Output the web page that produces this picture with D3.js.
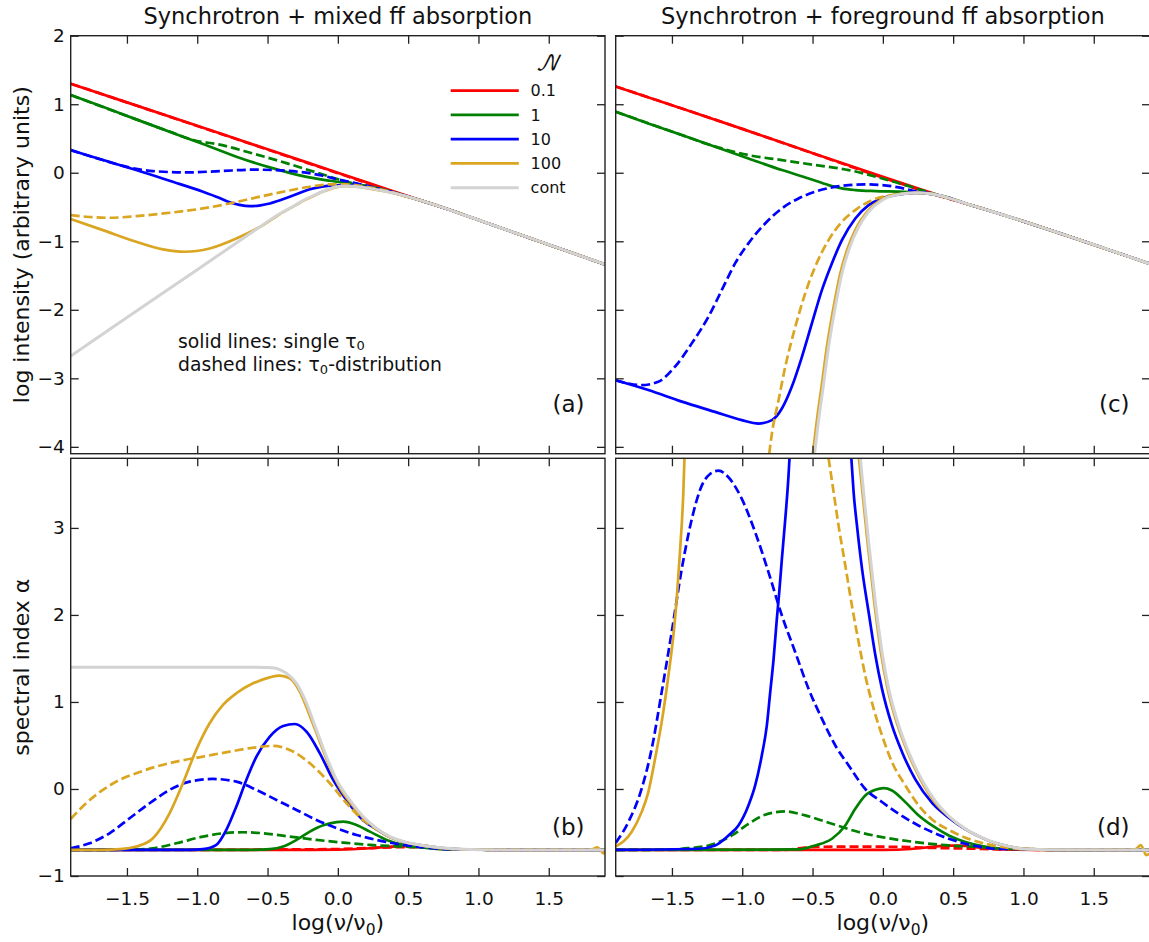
<!DOCTYPE html>
<html>
<head>
<meta charset="utf-8">
<script src="https://cdn.jsdelivr.net/npm/d3@7"></script>
<style>
  body { margin: 0; background: #fff; }
  svg { display: block; }
  text { font-family: "DejaVu Sans", sans-serif; fill: #111; }
</style>
</head>
<body>
<svg id="chart" width="1149" height="942"></svg>
<script>
// ---------- axis ticks and labels ----------
const xTicks = [-1.5, -1.0, -0.5, 0.0, 0.5, 1.0, 1.5];
const xTickLabels = ["\u22121.5", "\u22121.0", "\u22120.5", "0.0", "0.5", "1.0", "1.5"];
const yTicksIntensity = [-4, -3, -2, -1, 0, 1, 2];
const yTickLabelsIntensity = ["\u22124", "\u22123", "\u22122", "\u22121", "0", "1", "2"];
const yTicksAlpha = [-1, 0, 1, 2, 3];
const yTickLabelsAlpha = ["\u22121", "0", "1", "2", "3"];
const legendLabels = ["0.1", "1", "10", "100", "cont"];
const panelTitles = ["Synchrotron + mixed ff absorption", "Synchrotron + foreground ff absorption"];

// ---------- (a) log intensity, mixed absorption: [log(nu/nu0), log I] ----------
const tailA = [[0.6, -0.41], [0.8, -0.545], [1.0, -0.69], [1.5, -1.05], [1.9, -1.338]];
const aRed = [[-1.9, 1.30], [-1.5, 1.027], [-1.0, 0.685], [-0.5, 0.342], [0.0, 0.0], [0.2, -0.137], [0.4, -0.274]].concat(tailA);
const aRedDash = [[-1.9, 1.30], [-1.0, 0.683], [-0.5, 0.338], [0.0, -0.006], [0.2, -0.145], [0.4, -0.28]].concat(tailA);
const aGreen = [[-1.9, 1.134], [-1.671, 0.963], [-1.434, 0.779], [-1.197, 0.599], [-0.959, 0.418], [-0.722, 0.234], [-0.484, 0.078], [-0.247, -0.049], [-0.057, -0.117], [0.109, -0.165], [0.228, -0.203], [0.35, -0.26], [0.465, -0.33]].concat(tailA);
const aGreenDash = [[-1.9, 1.134], [-1.434, 0.779], [-1.197, 0.6], [-1.03, 0.478], [-0.84, 0.41], [-0.603, 0.28], [-0.366, 0.14], [-0.128, -0.012], [0.062, -0.13], [0.228, -0.21], [0.35, -0.262], [0.465, -0.33]].concat(tailA);
const aBlue = [[-1.9, 0.331], [-1.671, 0.185], [-1.434, 0.039], [-1.197, -0.117], [-0.959, -0.277], [-0.85, -0.36], [-0.769, -0.43], [-0.7, -0.468], [-0.627, -0.487], [-0.55, -0.475], [-0.484, -0.448], [-0.342, -0.35], [-0.199, -0.24], [-0.1, -0.198], [-0.02, -0.185], [0.062, -0.185], [0.2, -0.215], [0.35, -0.265], [0.465, -0.33]].concat(tailA);
const aBlueDash = [[-1.9, 0.331], [-1.671, 0.185], [-1.529, 0.1], [-1.315, 0.024], [-1.078, 0.005], [-0.84, 0.024], [-0.603, 0.045], [-0.366, 0.029], [-0.128, -0.034], [-0.009, -0.092], [0.133, -0.156], [0.228, -0.2], [0.35, -0.262], [0.465, -0.33]].concat(tailA);
const aGold = [[-1.9, -0.676], [-1.671, -0.837], [-1.434, -1.007], [-1.244, -1.119], [-1.09, -1.153], [-0.912, -1.105], [-0.722, -0.959], [-0.532, -0.764], [-0.389, -0.575], [-0.3, -0.473], [-0.247, -0.41], [-0.17, -0.335], [-0.104, -0.275], [-0.009, -0.21], [0.05, -0.197], [0.109, -0.2], [0.228, -0.232], [0.35, -0.278], [0.465, -0.333]].concat(tailA);
const aGoldDash = [[-1.9, -0.618], [-1.79, -0.642], [-1.624, -0.657], [-1.434, -0.633], [-1.197, -0.584], [-0.959, -0.521], [-0.769, -0.448], [-0.579, -0.36], [-0.389, -0.277], [-0.199, -0.204], [-0.057, -0.17], [0.062, -0.17], [0.2, -0.205], [0.35, -0.264], [0.465, -0.33]].concat(tailA);
const aCont = [[-1.9, -2.674], [-1.5, -2.114], [-1.0, -1.414], [-0.6, -0.854], [-0.45, -0.646], [-0.389, -0.57], [-0.3, -0.47], [-0.247, -0.405], [-0.17, -0.33], [-0.104, -0.27], [-0.009, -0.205], [0.05, -0.192], [0.109, -0.196], [0.228, -0.228], [0.35, -0.275], [0.465, -0.33]].concat(tailA);

// ---------- (b) spectral index, mixed absorption ----------
const tailB = [[1.0, -0.698], [1.2, -0.70], [1.9, -0.70]];
const bRed = [[-1.9, -0.70], [-0.5, -0.70], [0.0, -0.697], [0.228, -0.681], [0.347, -0.665], [0.465, -0.657], [0.584, -0.662], [0.703, -0.685], [0.85, -0.696]].concat(tailB);
const bRedDash = [[-1.9, -0.70], [-0.8, -0.70], [-0.4, -0.695], [0.0, -0.69], [0.2, -0.68], [0.4, -0.67], [0.6, -0.668], [0.75, -0.685], [0.9, -0.696]].concat(tailB);
const bGreen = [[-1.9, -0.70], [-0.6, -0.699], [-0.484, -0.692], [-0.389, -0.662], [-0.294, -0.585], [-0.199, -0.49], [-0.104, -0.418], [-0.009, -0.38], [0.038, -0.375], [0.133, -0.413], [0.228, -0.49], [0.347, -0.585], [0.465, -0.643], [0.584, -0.67], [0.703, -0.689], [0.85, -0.697]].concat(tailB);
const bGreenDash = [[-1.9, -0.70], [-1.434, -0.697], [-1.315, -0.681], [-1.149, -0.624], [-0.959, -0.547], [-0.817, -0.509], [-0.674, -0.497], [-0.532, -0.509], [-0.342, -0.547], [-0.152, -0.585], [0.038, -0.616], [0.228, -0.643], [0.465, -0.662], [0.703, -0.681], [0.9, -0.695]].concat(tailB);
const bBlue = [[-1.9, -0.70], [-1.05, -0.699], [-0.959, -0.692], [-0.864, -0.643], [-0.793, -0.47], [-0.722, -0.202], [-0.651, 0.104], [-0.579, 0.372], [-0.484, 0.602], [-0.389, 0.724], [-0.306, 0.747], [-0.223, 0.659], [-0.128, 0.41], [-0.033, 0.104], [0.062, -0.13], [0.18, -0.36], [0.275, -0.463], [0.37, -0.553], [0.465, -0.608], [0.584, -0.646], [0.703, -0.672], [0.8, -0.688]].concat(tailB);
const bBlueDash = [[-1.9, -0.681], [-1.766, -0.624], [-1.624, -0.509], [-1.481, -0.336], [-1.339, -0.164], [-1.197, -0.011], [-1.054, 0.085], [-0.888, 0.115], [-0.722, 0.085], [-0.579, -0.011], [-0.437, -0.126], [-0.294, -0.241], [-0.152, -0.356], [-0.009, -0.451], [0.133, -0.528], [0.275, -0.585], [0.418, -0.631], [0.56, -0.662], [0.703, -0.685], [0.85, -0.695]].concat(tailB);
const bGold = [[-1.9, -0.70], [-1.671, -0.70], [-1.55, -0.692], [-1.434, -0.662], [-1.315, -0.566], [-1.197, -0.279], [-1.102, 0.066], [-1.007, 0.449], [-0.912, 0.755], [-0.817, 0.966], [-0.722, 1.10], [-0.603, 1.214], [-0.484, 1.283], [-0.413, 1.303], [-0.342, 1.272], [-0.271, 1.12], [-0.199, 0.84], [-0.128, 0.54], [-0.057, 0.25], [0.02, 0.0], [0.085, -0.15], [0.18, -0.33], [0.275, -0.458], [0.37, -0.551], [0.465, -0.606], [0.584, -0.645], [0.703, -0.671], [0.8, -0.687], [1.0, -0.698], [1.2, -0.70], [1.78, -0.70], [1.815, -0.69], [1.845, -0.67], [1.87, -0.705], [1.887, -0.74], [1.9, -0.735]];
const bGoldDash = [[-1.9, -0.345], [-1.79, -0.164], [-1.671, -0.011], [-1.553, 0.104], [-1.434, 0.181], [-1.292, 0.257], [-1.149, 0.315], [-0.959, 0.372], [-0.769, 0.429], [-0.579, 0.479], [-0.461, 0.495], [-0.342, 0.449], [-0.199, 0.295], [-0.057, 0.066], [0.062, -0.164], [0.18, -0.356], [0.275, -0.462], [0.37, -0.552], [0.465, -0.607], [0.584, -0.645], [0.703, -0.672], [0.8, -0.688]].concat(tailB);
const bCont = [[-1.9, 1.398], [-0.6, 1.398], [-0.5, 1.396], [-0.45, 1.39], [-0.41, 1.37], [-0.366, 1.33], [-0.294, 1.214], [-0.223, 0.985], [-0.152, 0.678], [-0.081, 0.372], [-0.009, 0.104], [0.085, -0.126], [0.18, -0.317], [0.275, -0.451], [0.37, -0.547], [0.465, -0.604], [0.584, -0.643], [0.703, -0.67], [0.8, -0.685]].concat(tailB);

// ---------- (c) log intensity, foreground absorption ----------
const tailC = [[0.8, -0.58], [1.0, -0.71], [1.5, -1.05], [1.9, -1.33]];
const cRed = [[-1.9, 1.26], [-1.5, 0.985], [-1.0, 0.64], [-0.481, 0.275], [0.0, -0.06], [0.231, -0.215], [0.4, -0.33], [0.6, -0.455]].concat(tailC);
const cRedDash = [[-1.9, 1.26], [-1.0, 0.64], [-0.481, 0.272], [-0.2, 0.07], [0.0, -0.072], [0.231, -0.228], [0.4, -0.337], [0.6, -0.456]].concat(tailC);
const cGreen = [[-1.9, 0.89], [-1.668, 0.72], [-1.43, 0.55], [-1.193, 0.38], [-0.956, 0.209], [-0.718, 0.039], [-0.528, -0.083], [-0.386, -0.18], [-0.291, -0.229], [-0.196, -0.253], [-0.053, -0.268], [0.113, -0.276], [0.231, -0.285], [0.35, -0.312], [0.469, -0.37], [0.6, -0.455]].concat(tailC);
const cGreenDash = [[-1.9, 0.89], [-1.43, 0.55], [-1.25, 0.42], [-1.145, 0.355], [-0.956, 0.258], [-0.718, 0.185], [-0.481, 0.112], [-0.243, 0.039], [-0.006, -0.083], [0.184, -0.195], [0.35, -0.3], [0.469, -0.365], [0.6, -0.455]].concat(tailC);
const cBlue = [[-1.9, -3.027], [-1.668, -3.17], [-1.43, -3.34], [-1.193, -3.49], [-1.003, -3.61], [-0.884, -3.66], [-0.789, -3.61], [-0.718, -3.44], [-0.647, -3.12], [-0.576, -2.69], [-0.505, -2.2], [-0.433, -1.71], [-0.362, -1.32], [-0.291, -0.983], [-0.196, -0.667], [-0.101, -0.472], [-0.006, -0.375], [0.113, -0.316], [0.231, -0.293], [0.35, -0.311], [0.469, -0.37], [0.6, -0.455]].concat(tailC);
const cBlueDash = [[-1.9, -3.027], [-1.81, -3.075], [-1.716, -3.1], [-1.597, -3.05], [-1.478, -2.83], [-1.359, -2.49], [-1.24, -2.1], [-1.145, -1.71], [-1.05, -1.32], [-0.956, -1.03], [-0.837, -0.74], [-0.718, -0.52], [-0.6, -0.375], [-0.481, -0.277], [-0.362, -0.214], [-0.243, -0.18], [-0.125, -0.17], [-0.006, -0.18], [0.113, -0.214], [0.231, -0.27], [0.35, -0.305], [0.469, -0.367], [0.6, -0.455]].concat(tailC);
const cGold = [[-0.498, -4.1], [-0.469, -3.61], [-0.433, -3.075], [-0.398, -2.54], [-0.35, -1.956], [-0.303, -1.47], [-0.255, -1.13], [-0.184, -0.788], [-0.113, -0.569], [-0.018, -0.40], [0.1, -0.316], [0.231, -0.292], [0.35, -0.311], [0.469, -0.37], [0.6, -0.455]].concat(tailC);
const cGoldDash = [[-0.808, -4.1], [-0.789, -3.805], [-0.742, -3.32], [-0.694, -2.83], [-0.623, -2.25], [-0.552, -1.76], [-0.481, -1.37], [-0.386, -0.983], [-0.291, -0.715], [-0.196, -0.545], [-0.077, -0.40], [0.065, -0.326], [0.184, -0.30], [0.3, -0.298], [0.469, -0.368], [0.6, -0.455]].concat(tailC);
const cCont = [[-0.486, -4.1], [-0.457, -3.61], [-0.421, -3.075], [-0.386, -2.54], [-0.338, -1.956], [-0.291, -1.47], [-0.243, -1.13], [-0.172, -0.788], [-0.101, -0.569], [-0.006, -0.40], [0.113, -0.316], [0.231, -0.292], [0.35, -0.311], [0.469, -0.37], [0.6, -0.455]].concat(tailC);

// ---------- (d) spectral index, foreground absorption (null = off the axes) ----------
const tailD = [[1.0, -0.69], [1.2, -0.699], [1.9, -0.70]];
const dRed = [[-1.9, -0.70], [0.0, -0.70], [0.2, -0.69], [0.35, -0.665], [0.45, -0.65], [0.55, -0.652], [0.7, -0.675], [0.9, -0.695], [1.2, -0.70], [1.9, -0.70]];
const dRedDash = [[-1.9, -0.70], [-0.7, -0.70], [-0.5, -0.665], [-0.2, -0.662], [0.1, -0.665], [0.3, -0.675], [0.6, -0.685], [0.9, -0.695], [1.2, -0.70], [1.9, -0.70]];
const dGreen = [[-1.9, -0.70], [-0.6, -0.695], [-0.481, -0.649], [-0.362, -0.572], [-0.267, -0.419], [-0.196, -0.227], [-0.125, -0.074], [-0.053, -0.009], [0.006, 0.01], [0.065, -0.017], [0.16, -0.151], [0.255, -0.304], [0.35, -0.419], [0.469, -0.534], [0.588, -0.61], [0.706, -0.656], [0.8, -0.68]].concat(tailD);
const dGreenDash = [[-1.9, -0.70], [-1.5, -0.697], [-1.43, -0.687], [-1.24, -0.649], [-1.074, -0.534], [-0.956, -0.40], [-0.837, -0.296], [-0.694, -0.258], [-0.552, -0.304], [-0.362, -0.40], [-0.172, -0.495], [-0.006, -0.553], [0.231, -0.61], [0.469, -0.649], [0.706, -0.668], [0.9, -0.69]].concat(tailD);
const dBlue = [[-1.9, -0.70], [-1.312, -0.687], [-1.193, -0.649], [-1.098, -0.534], [-1.027, -0.419], [-0.956, -0.189], [-0.908, 0.041], [-0.861, 0.385], [-0.825, 0.73], [-0.801, 1.113], [-0.777, 1.495], [-0.754, 1.955], [-0.737, 2.26], [-0.718, 2.644], [-0.694, 3.10], [-0.671, 3.60], [-0.664, 3.8],
  [-0.5, null],
  [-0.224, 3.8], [-0.208, 3.41], [-0.184, 3.027], [-0.148, 2.53], [-0.101, 2.03], [-0.053, 1.534], [-0.006, 1.15], [0.065, 0.73], [0.137, 0.423], [0.231, 0.11], [0.35, -0.16], [0.469, -0.33], [0.588, -0.465], [0.706, -0.562], [0.8, -0.622], [0.9, -0.662]].concat(tailD);
const dBlueDash = [[-1.9, -0.62], [-1.81, -0.38], [-1.716, 0.0], [-1.644, 0.462], [-1.573, 1.113], [-1.502, 1.80], [-1.43, 2.53], [-1.359, 3.10], [-1.288, 3.486], [-1.229, 3.62], [-1.169, 3.658], [-1.098, 3.582], [-1.003, 3.333], [-0.908, 2.95], [-0.813, 2.49], [-0.718, 1.993], [-0.623, 1.572], [-0.528, 1.15], [-0.433, 0.806], [-0.338, 0.50], [-0.243, 0.27], [-0.125, 0.0], [-0.006, -0.15], [0.113, -0.285], [0.231, -0.40], [0.35, -0.495], [0.469, -0.572], [0.588, -0.63], [0.706, -0.668], [0.8, -0.687]].concat(tailD);
const dGold = [[-1.9, -0.66], [-1.787, -0.495], [-1.716, -0.266], [-1.668, -0.036], [-1.62, 0.347], [-1.573, 0.768], [-1.525, 1.304], [-1.49, 1.763], [-1.466, 2.185], [-1.443, 2.72], [-1.419, 3.41], [-1.411, 3.8],
  [-1.0, null],
  [-0.17, 3.8], [-0.145, 3.41], [-0.109, 2.835], [-0.061, 2.146], [-0.014, 1.572], [0.034, 1.15], [0.105, 0.73], [0.176, 0.423], [0.271, 0.1], [0.366, -0.145], [0.469, -0.315], [0.588, -0.462], [0.706, -0.562], [0.8, -0.622], [0.9, -0.662], [1.0, -0.686], [1.2, -0.699], [1.75, -0.70], [1.8, -0.69], [1.833, -0.644], [1.855, -0.70], [1.871, -0.759], [1.9, -0.74]];
const dGoldDash = [[-0.386, 3.8], [-0.35, 3.41], [-0.315, 3.027], [-0.267, 2.567], [-0.22, 2.108], [-0.172, 1.687], [-0.125, 1.304], [-0.065, 0.921], [-0.006, 0.615], [0.065, 0.309], [0.16, 0.041], [0.255, -0.189], [0.35, -0.35], [0.469, -0.47], [0.588, -0.56], [0.706, -0.62], [0.8, -0.655], [0.9, -0.678]].concat(tailD);
const dCont = [[-0.16, 3.8], [-0.137, 3.41], [-0.101, 2.835], [-0.053, 2.146], [-0.006, 1.572], [0.042, 1.15], [0.113, 0.73], [0.184, 0.423], [0.279, 0.10], [0.374, -0.14], [0.469, -0.31], [0.588, -0.46], [0.706, -0.56], [0.8, -0.62], [0.9, -0.66]].concat(tailD);

// ---------- styling ----------
const colors = { red: "#ff0000", green: "#008000", blue: "#0000ff", gold: "#daa520", cont: "#d3d3d3" };
const axisColor = "#222";
const lineWidth = 2.7, contWidth = 3.0, dashPattern = "9,4";

const svg = d3.select("#chart");

const cols = [{ x0: 70.7, x1: 605.0 }, { x0: 615.7, x1: 1150.0 }];
const rows = [{ y0: 35.7, y1: 453.7, domain: [-4.1, 2], ticks: yTicksIntensity, labels: yTickLabelsIntensity },
              { y0: 458.3, y1: 876.0, domain: [-1, 3.8], ticks: yTicksAlpha, labels: yTickLabelsAlpha }];

const panels = [
  { col: 0, row: 0, tag: "(a)", series: [[aRed, "red", false], [aRedDash, "red", true], [aGreen, "green", false], [aGreenDash, "green", true], [aBlue, "blue", false], [aBlueDash, "blue", true], [aGold, "gold", false], [aGoldDash, "gold", true], [aCont, "cont", false]] },
  { col: 0, row: 1, tag: "(b)", series: [[bRed, "red", false], [bRedDash, "red", true], [bGreen, "green", false], [bGreenDash, "green", true], [bBlue, "blue", false], [bBlueDash, "blue", true], [bGold, "gold", false], [bGoldDash, "gold", true], [bCont, "cont", false]] },
  { col: 1, row: 0, tag: "(c)", series: [[cRed, "red", false], [cRedDash, "red", true], [cGreen, "green", false], [cGreenDash, "green", true], [cBlue, "blue", false], [cBlueDash, "blue", true], [cGold, "gold", false], [cGoldDash, "gold", true], [cCont, "cont", false]] },
  { col: 1, row: 1, tag: "(d)", series: [[dRed, "red", false], [dRedDash, "red", true], [dGreen, "green", false], [dGreenDash, "green", true], [dBlue, "blue", false], [dBlueDash, "blue", true], [dGold, "gold", false], [dGoldDash, "gold", true], [dCont, "cont", false]] }
];

const defs = svg.append("defs");

panels.forEach((p, i) => {
  const c = cols[p.col], r = rows[p.row];
  const x = d3.scaleLinear().domain([-1.9, 1.9]).range([c.x0, c.x1]);
  const y = d3.scaleLinear().domain(r.domain).range([r.y1, r.y0]);
  const g = svg.append("g");

  defs.append("clipPath").attr("id", "clip" + i)
    .append("rect").attr("x", c.x0).attr("y", r.y0).attr("width", c.x1 - c.x0).attr("height", r.y1 - r.y0);

  const line = d3.line()
    .defined(d => d[1] !== null)
    .x(d => x(d[0])).y(d => y(d[1]))
    .curve(d3.curveMonotoneX);

  const plot = g.append("g").attr("clip-path", `url(#clip${i})`);
  p.series.forEach(([data, key, dashed]) => {
    plot.append("path")
      .attr("d", line(data))
      .attr("fill", "none")
      .attr("stroke", colors[key])
      .attr("stroke-width", key === "cont" ? contWidth : lineWidth)
      .attr("stroke-dasharray", dashed ? dashPattern : null)
      .attr("stroke-linejoin", "round");
  });

  // inward ticks on all four sides
  const styleAxis = sel => {
    sel.select(".domain").remove();
    sel.attr("font-family", "DejaVu Sans, sans-serif").attr("font-size", 18.5).attr("color", axisColor);
    sel.selectAll("line").attr("stroke-width", 1.3);
    sel.selectAll("text").style("fill", "#111");
  };
  const showX = p.row === 1, showY = p.col === 0;
  g.append("g").attr("transform", `translate(0,${r.y1})`)
    .call(d3.axisBottom(x).tickValues(xTicks).tickSizeInner(-8).tickSizeOuter(0).tickPadding(16)
      .tickFormat((d, k) => showX ? xTickLabels[k] : ""))
    .call(styleAxis);
  g.append("g").attr("transform", `translate(0,${r.y0})`)
    .call(d3.axisTop(x).tickValues(xTicks).tickSizeInner(-8).tickSizeOuter(0).tickFormat(""))
    .call(styleAxis);
  g.append("g").attr("transform", `translate(${c.x0},0)`)
    .call(d3.axisLeft(y).tickValues(r.ticks).tickSizeInner(-8).tickSizeOuter(0).tickPadding(6)
      .tickFormat((d, k) => showY ? r.labels[k] : ""))
    .call(styleAxis);
  g.append("g").attr("transform", `translate(${c.x1},0)`)
    .call(d3.axisRight(y).tickValues(r.ticks).tickSizeInner(-8).tickSizeOuter(0).tickFormat(""))
    .call(styleAxis);

  // frame
  g.append("rect").attr("x", c.x0).attr("y", r.y0).attr("width", c.x1 - c.x0).attr("height", r.y1 - r.y0)
    .attr("fill", "none").attr("stroke", axisColor).attr("stroke-width", 1.4);

  // panel tag
  g.append("text").attr("x", c.x1 - 20.5).attr("y", r.y1 - 41.5)
    .attr("text-anchor", "end").attr("font-size", 23).text(p.tag);
});

// column titles
cols.forEach((c, k) => {
  svg.append("text").attr("x", (c.x0 + c.x1) / 2).attr("y", 23.5)
    .attr("text-anchor", "middle").attr("font-size", 22.5).text(panelTitles[k]);
});

// x-axis labels
cols.forEach(c => {
  const t = svg.append("text").attr("x", (c.x0 + c.x1) / 2).attr("y", 930)
    .attr("text-anchor", "middle").attr("font-size", 22);
  t.append("tspan").text("log(\u03bd/\u03bd");
  t.append("tspan").attr("font-size", 15.5).attr("dy", 4.5).text("0");
  t.append("tspan").attr("dy", -4.5).text(")");
});

// y-axis labels
svg.append("text").attr("transform", `translate(28.5,${(rows[0].y0 + rows[0].y1) / 2}) rotate(-90)`)
  .attr("text-anchor", "middle").attr("font-size", 22).text("log intensity (arbitrary units)");
svg.append("text").attr("transform", `translate(28.5,${(rows[1].y0 + rows[1].y1) / 2}) rotate(-90)`)
  .attr("text-anchor", "middle").attr("font-size", 22).text("spectral index \u03b1");

// line-style note in panel (a)
const note1 = svg.append("text").attr("x", 178).attr("y", 347.5).attr("font-size", 18.8);
note1.append("tspan").text("solid lines: single \u03c4");
note1.append("tspan").attr("font-size", 13).attr("dy", 2.5).text("0");
const note2 = svg.append("text").attr("x", 178).attr("y", 371).attr("font-size", 18.8);
note2.append("tspan").text("dashed lines: \u03c4");
note2.append("tspan").attr("font-size", 13).attr("dy", 2.5).text("0");
note2.append("tspan").attr("dy", -2.5).text("-distribution");

// legend
const legendKeys = ["red", "green", "blue", "gold", "cont"];
const legendY = d3.scaleLinear().domain([0, 4]).range([90.7, 187.7]);
const lg = svg.append("g");
lg.append("text").attr("x", 547.5).attr("y", 70).attr("text-anchor", "middle")
  .attr("font-size", 21).attr("font-style", "italic")
  .style("font-family", "'DejaVu Math TeX Gyre', 'DejaVu Serif', serif").text("\ud835\udca9");
legendKeys.forEach((k, i) => {
  lg.append("line").attr("x1", 450.7).attr("x2", 518.8).attr("y1", legendY(i)).attr("y2", legendY(i))
    .attr("stroke", colors[k]).attr("stroke-width", k === "cont" ? contWidth : lineWidth);
  lg.append("text").attr("x", 530.6).attr("y", legendY(i)).attr("dy", "0.36em")
    .attr("font-size", 16).text(legendLabels[i]);
});
</script>
</body>
</html>
